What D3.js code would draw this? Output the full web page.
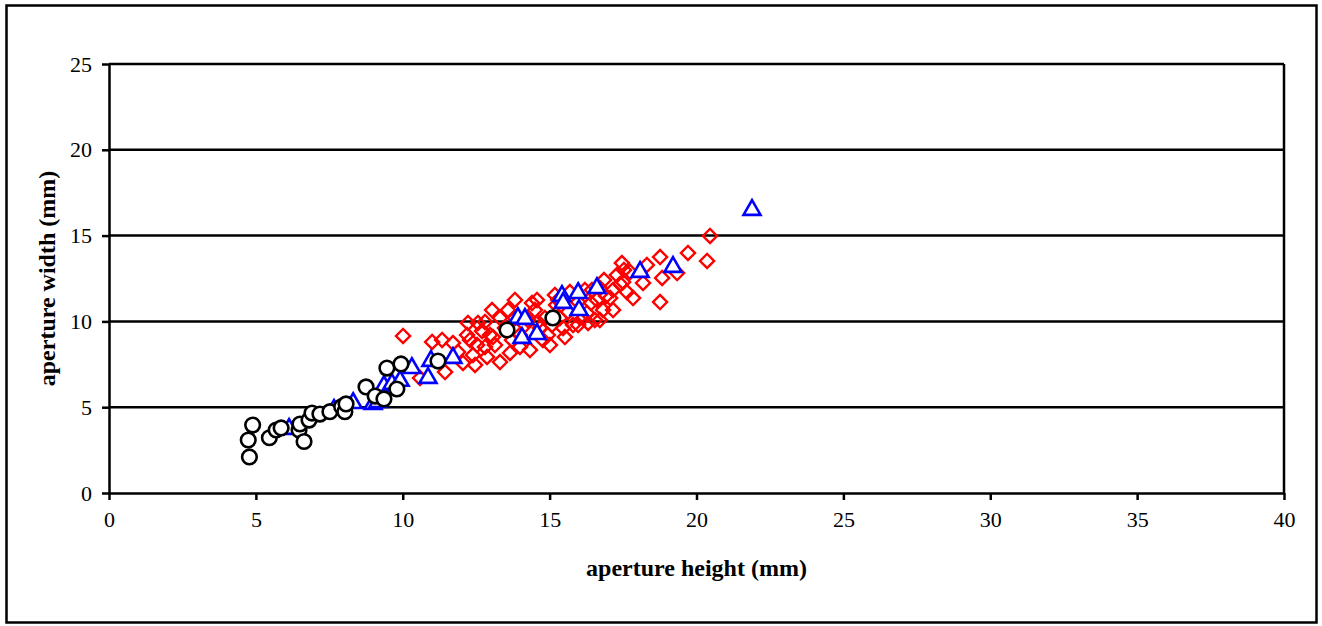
<!DOCTYPE html>
<html>
<head>
<meta charset="utf-8">
<script src="https://cdn.jsdelivr.net/npm/d3@7"></script>
<style>
  body { margin: 0; background: #fff; }
  svg text { font-family: "Liberation Serif", "Times New Roman", serif; }
</style>
</head>
<body>
<svg width="1322" height="626"></svg>
<script>
// data: [height, width] in mm
var circles = [
  [4.89, 3.96], [4.74, 3.09], [4.78, 2.10], [5.46, 3.22], [5.69, 3.67], [5.86, 3.79],
  [6.47, 3.67], [6.50, 4.02], [6.64, 3.00], [6.81, 4.25], [6.91, 4.66], [7.18, 4.60],
  [7.52, 4.74], [7.92, 5.03], [8.03, 4.74], [8.07, 5.19], [8.75, 6.18], [9.06, 5.65],
  [9.36, 5.48], [9.46, 7.28], [9.80, 6.06], [9.94, 7.52], [11.20, 7.69], [13.55, 9.50],
  [15.11, 10.20]
];

var triangles = [
  [6.13, 3.79], [7.66, 4.90], [8.31, 5.30], [8.99, 5.24], [9.16, 5.36], [9.36, 6.29],
  [9.63, 6.41], [9.91, 6.59], [10.31, 7.34], [10.86, 6.76], [10.96, 7.75], [11.71, 7.93],
  [13.92, 10.26], [14.16, 10.20], [14.06, 9.09], [14.57, 9.32], [15.42, 11.54], [15.46, 11.13],
  [15.97, 11.71], [16.00, 10.72], [16.61, 12.00], [18.08, 12.94], [19.20, 13.23], [21.89, 16.55]
];

var diamonds = [
  [10.01, 9.15], [10.59, 6.70], [11.00, 8.80], [11.34, 8.92], [11.44, 7.05], [11.71, 8.74],
  [12.05, 7.58], [12.22, 9.91], [12.19, 9.21], [12.56, 9.91], [12.53, 8.62], [12.80, 8.51],
  [13.07, 9.09], [13.04, 10.66], [12.87, 7.93], [13.31, 7.63], [13.65, 8.16], [13.99, 8.51],
  [14.33, 8.33], [12.39, 8.04], [11.88, 8.22], [12.70, 9.44], [13.48, 9.62], [13.72, 8.92],
  [14.16, 9.79], [14.50, 10.66], [14.57, 11.25], [14.84, 10.20], [14.94, 9.21], [15.08, 9.79],
  [15.22, 10.96], [15.35, 10.20], [15.52, 9.09], [15.63, 10.55], [15.69, 11.71], [15.80, 9.79],
  [15.97, 11.13], [16.14, 10.20], [16.20, 11.83], [16.27, 10.49], [16.41, 11.07], [16.54, 10.08],
  [16.61, 11.25], [16.71, 11.95], [16.82, 10.66], [16.92, 11.48], [17.06, 11.36], [17.16, 11.83],
  [17.16, 10.66], [17.29, 12.70], [17.40, 12.18], [17.46, 13.40], [17.50, 12.30], [17.63, 11.71],
  [17.74, 12.88], [17.84, 11.36], [18.18, 12.24], [18.31, 13.29], [18.76, 13.75], [18.83, 12.53],
  [18.76, 11.13], [19.34, 12.82], [19.71, 13.99], [20.36, 13.52], [20.46, 14.98],
  [13.82, 10.20], [13.99, 9.21], [14.26, 10.08], [14.67, 9.62], [14.77, 8.92], [15.01, 8.62],
  [13.14, 8.62], [12.97, 9.21], [13.31, 10.20], [13.58, 10.66], [14.40, 11.07], [15.18, 11.54],
  [15.46, 9.62], [15.97, 9.79], [16.31, 9.91], [16.71, 10.08], [12.29, 8.92], [12.80, 9.97],
  [13.82, 11.25], [12.46, 7.46], [14.60, 9.97], [15.29, 11.25], [16.44, 11.83], [16.85, 12.41],
  [17.53, 13.00]
];

var xTicks = [0, 5, 10, 15, 20, 25, 30, 35, 40];
var yTicks = [0, 5, 10, 15, 20, 25];

var svg = d3.select("svg"),
    width = +svg.attr("width"),
    height = +svg.attr("height"),
    margin = {top: 64, right: 38, bottom: 133, left: 109},
    w = width - margin.left - margin.right,
    h = height - margin.top - margin.bottom;

// outer frame
svg.append("rect")
    .attr("x", 6.5).attr("y", 5.5)
    .attr("width", 1310).attr("height", 617)
    .attr("fill", "none").attr("stroke", "#000").attr("stroke-width", 2.5);

var g = svg.append("g").attr("transform", "translate(" + margin.left + "," + margin.top + ")");

var x = d3.scaleLinear().domain([0, 40]).range([0, w]);
var y = d3.scaleLinear().domain([0, 25]).range([h, 0]);

// gridlines
g.selectAll(".grid")
    .data(yTicks.filter(function(d) { return d > 0; }))
    .enter().append("line")
    .attr("x1", 0).attr("x2", w)
    .attr("y1", function(d) { return y(d); })
    .attr("y2", function(d) { return y(d); })
    .attr("stroke", "#000").attr("stroke-width", 2.5);

// right edge of plot area
g.append("line")
    .attr("x1", w).attr("x2", w).attr("y1", 0).attr("y2", h)
    .attr("stroke", "#000").attr("stroke-width", 2.5);

var xAxis = g.append("g")
    .attr("transform", "translate(0," + h + ")")
    .call(d3.axisBottom(x).tickValues(xTicks).tickSize(7).tickPadding(11).tickSizeOuter(0));

var yAxis = g.append("g")
    .call(d3.axisLeft(y).tickValues(yTicks).tickSize(7).tickPadding(10).tickSizeOuter(0));

[xAxis, yAxis].forEach(function(a) {
  a.select(".domain").attr("stroke", "#000").attr("stroke-width", 2.5);
  a.selectAll(".tick line").attr("stroke", "#000").attr("stroke-width", 2.5);
  a.selectAll(".tick text")
      .attr("fill", "#000")
      .style("font-family", "'Liberation Serif', serif")
      .style("font-size", "22px");
});

// markers: diamonds under triangles under circles
var diamond = d3.symbol().type(d3.symbolSquare).size(100);
g.selectAll(".dia")
    .data(diamonds)
    .enter().append("path")
    .attr("d", diamond)
    .attr("transform", function(d) { return "translate(" + x(d[0]) + "," + y(d[1]) + ") rotate(45)"; })
    .attr("fill", "none")
    .attr("stroke", "#ff0000")
    .attr("stroke-width", 2.4);

var tri = d3.symbol().type(d3.symbolTriangle).size(125);
g.selectAll(".tri")
    .data(triangles)
    .enter().append("path")
    .attr("d", tri)
    .attr("transform", function(d) { return "translate(" + x(d[0]) + "," + (y(d[1]) + 1) + ")"; })
    .attr("fill", "#fff")
    .attr("stroke", "#0000ff")
    .attr("stroke-width", 2.6);

g.selectAll(".circ")
    .data(circles)
    .enter().append("circle")
    .attr("cx", function(d) { return x(d[0]); })
    .attr("cy", function(d) { return y(d[1]); })
    .attr("r", 7.3)
    .attr("fill", "#fff")
    .attr("stroke", "#000")
    .attr("stroke-width", 2.6);

// axis titles
svg.append("text")
    .attr("x", margin.left + w / 2)
    .attr("y", 576)
    .attr("text-anchor", "middle")
    .style("font-size", "24px")
    .style("font-weight", "bold")
    .text("aperture height (mm)");

svg.append("text")
    .attr("transform", "translate(55," + (margin.top + h / 2) + ") rotate(-90)")
    .attr("text-anchor", "middle")
    .style("font-size", "24px")
    .style("font-weight", "bold")
    .text("aperture width (mm)");
</script>
</body>
</html>
